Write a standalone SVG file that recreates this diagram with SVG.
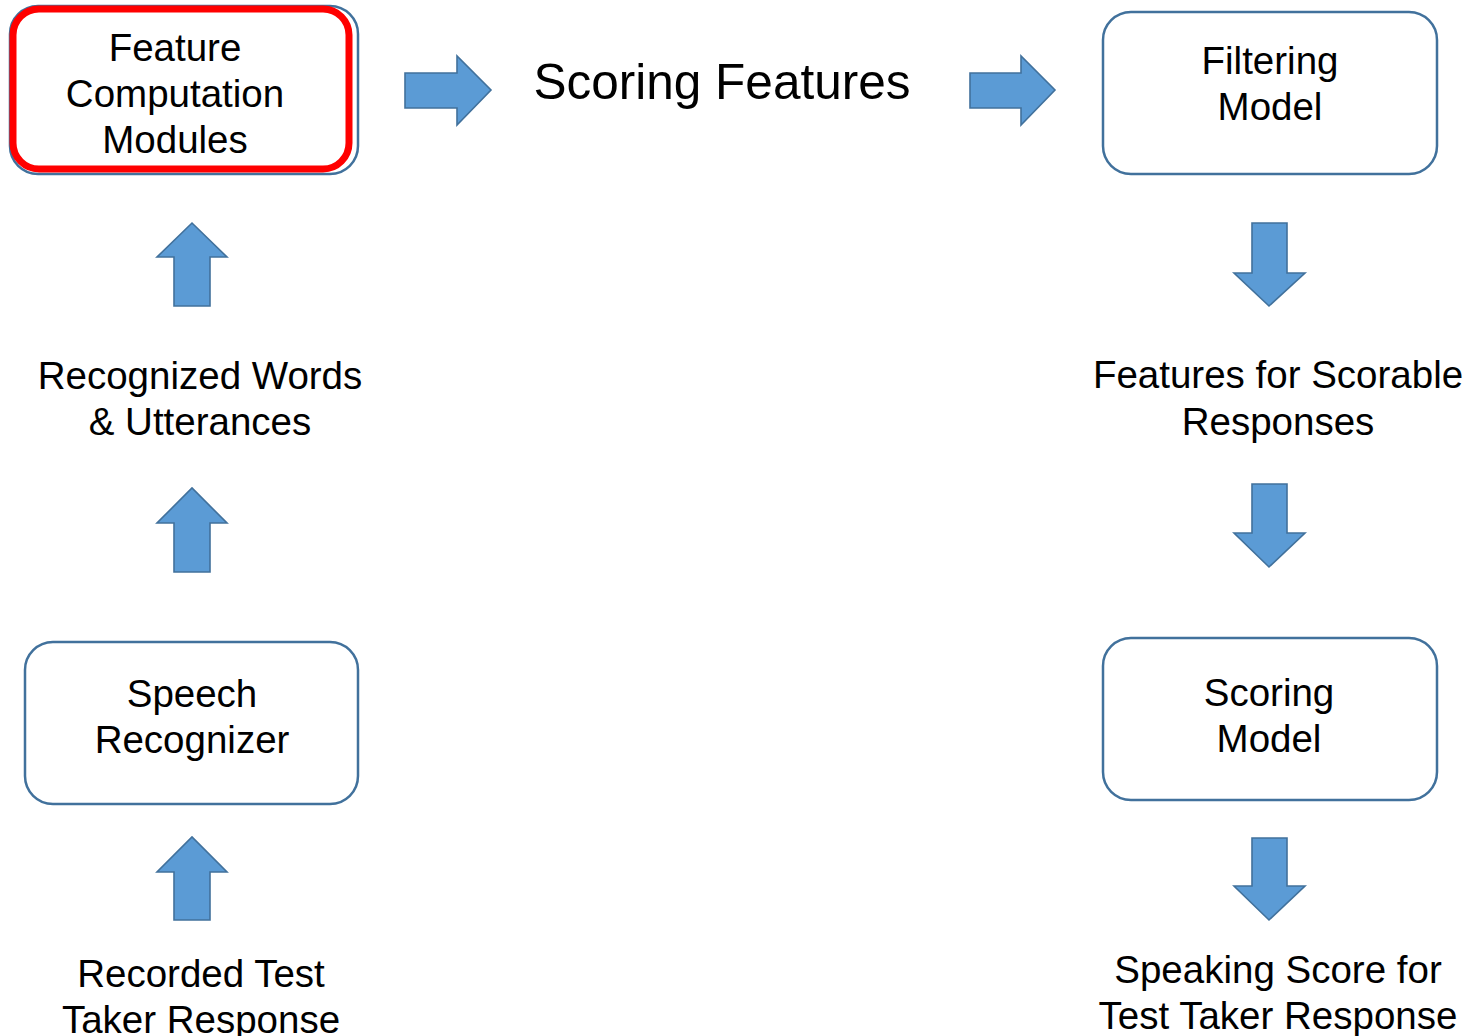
<svg xmlns="http://www.w3.org/2000/svg" width="1471" height="1036" viewBox="0 0 1471 1036">
  <defs>
    <style>
      .box { fill: #ffffff; stroke: #41719C; stroke-width: 2.5; }
      .hl { fill: none; stroke: #FF0000; stroke-width: 7; }
      .arrow { fill: #5B9BD5; stroke: #41719C; stroke-width: 1.6; stroke-linejoin: miter; }
      .t { font-family: "Liberation Sans", Arial, sans-serif; font-size: 38.5px; fill: #000000; text-anchor: middle; }
      .big { font-size: 49.5px; }
    </style>
  </defs>
  <rect width="1471" height="1036" fill="#ffffff"/>

  <!-- connectors: block arrows -->
  <g id="connectors">
    <!-- right arrows along the top row -->
    <polygon class="arrow" points="405,73 457,73 457,56 491,90 457,125 457,108 405,108"/>
    <polygon class="arrow" points="970,73 1021,73 1021,56 1055,90 1021,125 1021,108 970,108"/>
    <!-- up arrows, left column -->
    <polygon class="arrow" points="174,306 174,257 157,257 192,223 227,257 210,257 210,306"/>
    <polygon class="arrow" points="174,572 174,523 157,523 192,488 227,523 210,523 210,572"/>
    <polygon class="arrow" points="174,920 174,872 157,872 192,837 227,872 210,872 210,920"/>
    <!-- down arrows, right column -->
    <polygon class="arrow" points="1252,223 1287,223 1287,273 1305,273 1269,306 1234,273 1252,273"/>
    <polygon class="arrow" points="1252,484 1287,484 1287,533 1305,533 1269,567 1234,533 1252,533"/>
    <polygon class="arrow" points="1252,838 1287,838 1287,886 1305,886 1269,920 1234,886 1252,886"/>
  </g>

  <g id="feature-computation">
    <rect class="box" x="10" y="6" width="348" height="168" rx="28"/>
    <rect class="hl" x="13" y="9" width="336" height="160" rx="26"/>
    <text class="t" x="175" y="61">Feature</text>
    <text class="t" x="175" y="107">Computation</text>
    <text class="t" x="175" y="153">Modules</text>
  </g>

  <g id="scoring-features">
    <text class="t big" x="722" y="99">Scoring Features</text>
  </g>

  <g id="filtering-model">
    <rect class="box" x="1103" y="12" width="334" height="162" rx="28"/>
    <text class="t" x="1270" y="74">Filtering</text>
    <text class="t" x="1270" y="120">Model</text>
  </g>

  <g id="recognized-words">
    <text class="t" x="200" y="389">Recognized Words</text>
    <text class="t" x="200" y="435">&amp; Utterances</text>
  </g>

  <g id="features-scorable">
    <text class="t" x="1278" y="388">Features for Scorable</text>
    <text class="t" x="1278" y="435">Responses</text>
  </g>

  <g id="speech-recognizer">
    <rect class="box" x="25" y="642" width="333" height="162" rx="28"/>
    <text class="t" x="192" y="707">Speech</text>
    <text class="t" x="192" y="753">Recognizer</text>
  </g>

  <g id="scoring-model">
    <rect class="box" x="1103" y="638" width="334" height="162" rx="28"/>
    <text class="t" x="1269" y="706">Scoring</text>
    <text class="t" x="1269" y="752">Model</text>
  </g>

  <g id="recorded-response">
    <text class="t" x="201" y="987">Recorded Test</text>
    <text class="t" x="201" y="1033">Taker Response</text>
  </g>

  <g id="speaking-score">
    <text class="t" x="1278" y="983">Speaking Score for</text>
    <text class="t" x="1278" y="1029">Test Taker Response</text>
  </g>
</svg>
